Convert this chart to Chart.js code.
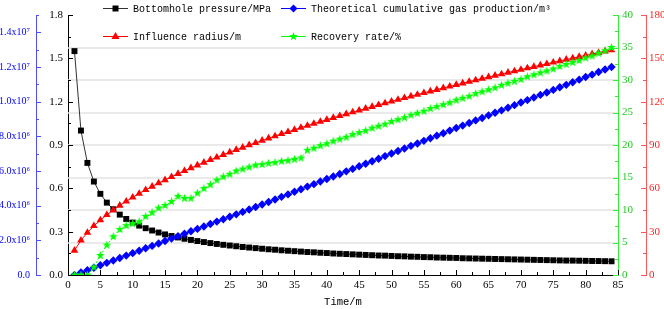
<!DOCTYPE html>
<html>
<head>
<meta charset="utf-8">
<script src="https://cdn.jsdelivr.net/npm/chart.js@4/dist/chart.umd.min.js"></script>
<style>
  html, body { margin: 0; padding: 0; background: #fff; }
  #wrap { width: 664px; height: 309px; position: relative; }
</style>
</head>
<body>
<div id="wrap"><canvas id="chart"></canvas></div>
<script>
// Production curves over time (months 1..84), four series on four y-axes.

const months = [
  1, 2, 3, 4, 5, 6, 7, 8, 9, 10, 11, 12, 13, 14, 15, 16, 17, 18, 19, 20,
  21, 22, 23, 24, 25, 26, 27, 28, 29, 30, 31, 32, 33, 34, 35, 36, 37, 38, 39, 40,
  41, 42, 43, 44, 45, 46, 47, 48, 49, 50, 51, 52, 53, 54, 55, 56, 57, 58, 59, 60,
  61, 62, 63, 64, 65, 66, 67, 68, 69, 70, 71, 72, 73, 74, 75, 76, 77, 78, 79, 80,
  81, 82, 83, 84,
];

// MPa
const pressure = [
  1.55, 1.00, 0.776, 0.647, 0.562, 0.501, 0.455, 0.418, 0.388, 0.363,
  0.342, 0.324, 0.308, 0.294, 0.281, 0.270, 0.260, 0.251, 0.243, 0.235,
  0.228, 0.221, 0.215, 0.209, 0.204, 0.199, 0.194, 0.190, 0.186, 0.182,
  0.178, 0.175, 0.171, 0.168, 0.165, 0.162, 0.159, 0.157, 0.154, 0.152,
  0.149, 0.147, 0.145, 0.143, 0.141, 0.139, 0.137, 0.135, 0.134, 0.132,
  0.130, 0.129, 0.127, 0.126, 0.124, 0.123, 0.121, 0.120, 0.119, 0.118,
  0.116, 0.115, 0.114, 0.113, 0.112, 0.111, 0.110, 0.109, 0.108, 0.107,
  0.106, 0.105, 0.104, 0.103, 0.102, 0.101, 0.100, 0.0997, 0.0989, 0.098,
  0.097, 0.0966, 0.0958, 0.095,
];

// 10^6 m3
const gasProd = [
  0, 0.14, 0.28, 0.42, 0.56, 0.70, 0.84, 0.98, 1.12, 1.26,
  1.40, 1.54, 1.68, 1.82, 1.96, 2.10, 2.24, 2.38, 2.52, 2.66,
  2.80, 2.94, 3.08, 3.22, 3.36, 3.50, 3.64, 3.78, 3.92, 4.07,
  4.21, 4.36, 4.51, 4.65, 4.80, 4.95, 5.10, 5.24, 5.39, 5.54,
  5.68, 5.83, 5.98, 6.12, 6.27, 6.42, 6.56, 6.71, 6.86, 7.01,
  7.15, 7.30, 7.45, 7.59, 7.74, 7.89, 8.04, 8.18, 8.33, 8.48,
  8.62, 8.77, 8.92, 9.06, 9.21, 9.36, 9.50, 9.65, 9.80, 9.95,
  10.09, 10.24, 10.39, 10.53, 10.68, 10.83, 10.97, 11.12, 11.27, 11.42,
  11.56, 11.71, 11.86, 12.00,
];

// m
const radius = [
  17.0, 24.0, 29.4, 34.0, 38.0, 41.6, 45.0, 48.1, 51.0, 53.8,
  56.4, 58.9, 61.3, 63.6, 65.8, 68.0, 70.1, 72.1, 74.1, 76.0,
  77.9, 79.7, 81.5, 83.3, 85.0, 86.7, 88.3, 90.0, 91.5, 93.1,
  94.7, 96.2, 97.7, 99.1, 100.6, 102.0, 103.4, 104.8, 106.2, 107.5,
  108.9, 110.2, 111.5, 112.8, 114.0, 115.3, 116.5, 117.8, 119.0, 120.2,
  121.4, 122.6, 123.8, 124.9, 126.1, 127.2, 128.3, 129.5, 130.6, 131.7,
  132.8, 133.9, 134.9, 136.0, 137.1, 138.1, 139.1, 140.2, 141.2, 142.2,
  143.2, 144.2, 145.2, 146.2, 147.2, 148.2, 149.2, 150.1, 151.1, 152.0,
  153.0, 153.9, 154.9, 155.8,
];

// %
const recovery = [
  0, 0, 0, 1.2, 3.0, 4.6, 5.9, 7.0, 7.6, 7.9,
  8.2, 9.0, 9.6, 10.3, 10.7, 11.3, 12.1, 11.8, 11.8, 12.6,
  13.3, 13.9, 14.6, 15.1, 15.5, 16.0, 16.3, 16.6, 16.9, 17.0,
  17.2, 17.3, 17.5, 17.6, 17.8, 18.0, 19.2, 19.5, 19.9, 20.2,
  20.6, 20.9, 21.2, 21.6, 21.9, 22.2, 22.6, 22.9, 23.2, 23.6,
  23.9, 24.2, 24.6, 24.9, 25.2, 25.6, 25.9, 26.2, 26.5, 26.9,
  27.2, 27.5, 27.9, 28.2, 28.5, 28.8, 29.2, 29.5, 29.8, 30.1,
  30.5, 30.8, 31.1, 31.4, 31.7, 32.1, 32.4, 32.7, 33.0, 33.4,
  33.7, 34.1, 34.5, 35.0,
];

const SERIF = "'Liberation Serif', 'Times New Roman', serif";
const MONO = "'Liberation Mono', 'DejaVu Sans Mono', monospace";

const BLACK = "#000000";
const BLUE = "#0000ff";
const RED = "#ff0000";
const GREEN = "#00ff00";

// filled five-point star, used as a point style
function starImage(size, color) {
  const c = document.createElement("canvas");
  c.width = c.height = size;
  const g = c.getContext("2d");
  const R = size / 2, r = R * 0.42;
  g.beginPath();
  for (let i = 0; i < 10; i++) {
    const a = -Math.PI / 2 + (i * Math.PI) / 5;
    const rr = i % 2 ? r : R;
    g.lineTo(R + rr * Math.cos(a), R + rr * Math.sin(a));
  }
  g.closePath();
  g.fillStyle = color;
  g.fill();
  return c;
}
const STAR = starImage(9, GREEN);

const SUP = { 6: "\u2076", 7: "\u2077" };
function sciLabel(v) {
  if (v === 0) return "0.0";
  if (v < 10) return v.toFixed(1) + "x10" + SUP[6];
  return (v / 10).toFixed(1) + "x10" + SUP[7];
}

const isMultiple = (v, step) => Math.abs(v / step - Math.round(v / step)) < 1e-6;

function yAxis(position, color, lineColor, min, max, step, label, width, pad, weight, size) {
  return {
    type: "linear",
    position,
    weight,
    min,
    max,
    border: { display: true, color: lineColor, width: 1 },
    grid: { display: false, drawTicks: false },
    ticks: {
      stepSize: step,
      autoSkip: false,
      padding: pad,
      color,
      font: { family: SERIF, size: size || 11 },
      callback: label,
    },
    afterFit: (s) => { s.width = width; },
  };
}

// light horizontal guides at the green axis' major ticks
const guideLines = {
  id: "guideLines",
  beforeDatasetsDraw(chart) {
    const s = chart.scales.yG;
    const { left, right } = chart.chartArea;
    const ctx = chart.ctx;
    ctx.save();
    ctx.strokeStyle = "#e3e3e3";
    ctx.lineWidth = 1.5;
    s.ticks.forEach((t) => {
      if (!isMultiple(t.value, 5) || t.value <= 0 || t.value >= 40) return;
      const p = Math.round(s.getPixelForValue(t.value));
      ctx.beginPath();
      ctx.moveTo(left, p);
      ctx.lineTo(right, p);
      ctx.stroke();
    });
    ctx.restore();
  },
};

// tick marks drawn inward, major longer than minor
const inwardTicks = {
  id: "inwardTicks",
  afterDraw(chart) {
    const ctx = chart.ctx;
    ctx.save();
    ctx.lineWidth = 1;
    for (const id of ["x", "yP", "yQ", "yG", "yR"]) {
      const s = chart.scales[id];
      ctx.strokeStyle = s.options.border.color;
      s.ticks.forEach((t) => {
        const len = t.label === "" ? 3 : 5;
        const p = Math.round(s.getPixelForValue(t.value)) + 0.5;
        ctx.beginPath();
        if (id === "x") {
          ctx.moveTo(p, s.top); ctx.lineTo(p, s.top - len);
        } else if (s.position === "left") {
          ctx.moveTo(s.right, p); ctx.lineTo(s.right + len, p);
        } else {
          ctx.moveTo(s.left, p); ctx.lineTo(s.left - len, p);
        }
        ctx.stroke();
      });
    }
    ctx.restore();
  },
};

function drawMarker(ctx, kind, x, y, color) {
  ctx.fillStyle = color;
  ctx.beginPath();
  if (kind === "rect") {
    ctx.rect(x - 3, y - 3, 6, 6);
  } else if (kind === "rectRot") {
    ctx.moveTo(x, y - 4); ctx.lineTo(x + 4, y); ctx.lineTo(x, y + 4); ctx.lineTo(x - 4, y);
  } else if (kind === "triangle") {
    ctx.moveTo(x, y - 4.5); ctx.lineTo(x + 4, y + 2.5); ctx.lineTo(x - 4, y + 2.5);
  } else {
    ctx.drawImage(STAR, x - 4.5, y - 4.5);
    return;
  }
  ctx.closePath();
  ctx.fill();
}

const LEGEND = [
  { text: "Bottomhole pressure/MPa", color: BLACK, line: "#333333", marker: "rect", x: 103, y: 8 },
  { text: "Theoretical cumulative gas production/m\u00b3", color: BLUE, line: BLUE, marker: "rectRot", x: 281, y: 8 },
  { text: "Influence radius/m", color: RED, line: RED, marker: "triangle", x: 103, y: 36 },
  { text: "Recovery rate/%", color: GREEN, line: GREEN, marker: "star", x: 281, y: 36 },
];

const legendPlugin = {
  id: "topLegend",
  afterDraw(chart) {
    const ctx = chart.ctx;
    ctx.save();
    ctx.font = `10px ${MONO}`;
    ctx.textBaseline = "middle";
    for (const e of LEGEND) {
      ctx.fillStyle = "#fff";
      ctx.fillRect(e.x - 2, e.y - 7, 31 + ctx.measureText(e.text).width + 6, 14);
      ctx.strokeStyle = e.line;
      ctx.lineWidth = 1;
      ctx.beginPath();
      ctx.moveTo(e.x, e.y + 0.5);
      ctx.lineTo(e.x + 25, e.y + 0.5);
      ctx.stroke();
      drawMarker(ctx, e.marker, e.x + 12.5, e.y + 0.5, e.color);
      ctx.fillStyle = "#000";
      ctx.fillText(e.text, e.x + 30, e.y + 1);
    }
    ctx.restore();
  },
};

const cfg = {
  type: "line",
  data: {
    labels: months,
    datasets: [
      {
        label: "Recovery rate/%",
        data: recovery,
        yAxisID: "yG",
        order: 0,
        borderColor: GREEN,
        borderWidth: 1,
        borderDash: [2, 2],
        pointStyle: STAR,
        pointRadius: 4,
        pointBackgroundColor: GREEN,
        pointBorderColor: GREEN,
      },
      {
        label: "Influence radius/m",
        data: radius,
        yAxisID: "yR",
        order: 1,
        borderColor: RED,
        borderWidth: 1,
        pointStyle: "triangle",
        pointRadius: 4.4,
        pointBorderWidth: 0,
        pointBackgroundColor: RED,
        pointBorderColor: RED,
      },
      {
        label: "Theoretical cumulative gas production/m3",
        data: gasProd,
        yAxisID: "yQ",
        order: 2,
        borderColor: BLUE,
        borderWidth: 1,
        pointStyle: "rectRot",
        pointRadius: 4.2,
        pointBorderWidth: 0,
        pointBackgroundColor: BLUE,
        pointBorderColor: BLUE,
      },
      {
        label: "Bottomhole pressure/MPa",
        data: pressure,
        yAxisID: "yP",
        order: 3,
        borderColor: "#333333",
        borderWidth: 1,
        pointStyle: "rect",
        pointRadius: 4.2,
        pointBorderWidth: 0,
        pointBackgroundColor: BLACK,
        pointBorderColor: BLACK,
      },
    ],
  },
  options: {
    responsive: true,
    maintainAspectRatio: false,
    animation: false,
    layout: { padding: { top: 15, left: 0, right: 0, bottom: 0 } },
    plugins: { legend: { display: false }, tooltip: { enabled: false } },
    scales: {
      x: {
        type: "linear",
        position: "bottom",
        min: 0,
        max: 85,
        border: { display: true, color: BLACK, width: 1 },
        grid: { display: false, drawTicks: false },
        ticks: {
          stepSize: 2.5,
          autoSkip: false,
          maxRotation: 0,
          padding: 4,
          color: BLACK,
          font: { family: SERIF, size: 11 },
          callback: (v) => (isMultiple(v, 5) ? String(v) : ""),
        },
        title: {
          display: true,
          text: "Time/m",
          color: BLACK,
          font: { family: MONO, size: 10.5 },
          padding: 0,
        },
        afterFit: (s) => { s.height = 34; },
      },
      yP: yAxis("left", BLACK, BLACK, 0, 1.8, 0.15,
        (v) => (isMultiple(v, 0.3) ? v.toFixed(1) : ""), 32, 5, 0),
      yQ: yAxis("left", BLUE, "#4d4dff", 0, 15, 1,
        (v) => (isMultiple(v, 2) ? sciLabel(v) : ""), 36, 6, 1, 10),
      yG: yAxis("right", "#22cc22", "#33ee33", 0, 40, 2.5,
        (v) => (isMultiple(v, 5) ? String(v) : ""), 28, 4, 0),
      yR: yAxis("right", "#ff2222", "#ff5555", 0, 180, 15,
        (v) => (isMultiple(v, 30) ? String(v) : ""), 18, 3, 1),
    },
  },
  plugins: [guideLines, inwardTicks, legendPlugin],
};

new Chart(document.getElementById("chart"), cfg);
</script>
</body>
</html>
